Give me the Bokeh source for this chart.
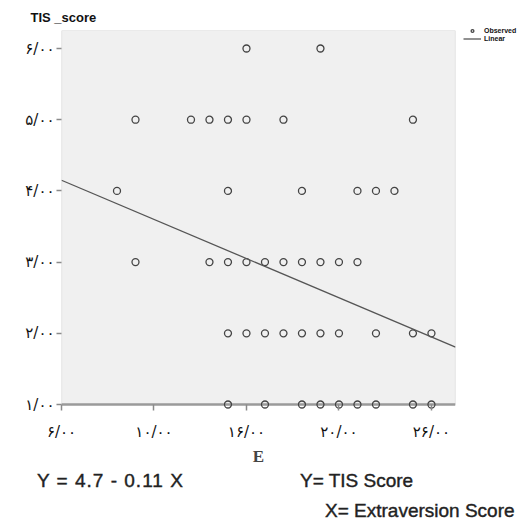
from bokeh.plotting import figure
from bokeh.models import (Range1d, FixedTicker, BoxAnnotation, Span,
                          Legend, LegendItem, Div)
from bokeh.layouts import column
from bokeh.embed import file_html
from bokeh.resources import INLINE

# ---- data ----
observed_e = [16, 20,
              10, 13, 14, 15, 16, 18, 25,
              9, 15, 19, 22, 23, 24,
              10, 14, 15, 16, 17, 18, 19, 20, 21, 22,
              15, 16, 17, 18, 19, 20, 21, 23, 25, 26,
              15, 17, 19, 20, 21, 22, 23, 25, 26]
observed_tis = [6, 6,
                5, 5, 5, 5, 5, 5, 5,
                4, 4, 4, 4, 4, 4,
                3, 3, 3, 3, 3, 3, 3, 3, 3, 3,
                2, 2, 2, 2, 2, 2, 2, 2, 2, 2,
                1, 1, 1, 1, 1, 1, 1, 1, 1]
fit_intercept = 4.81
fit_slope = -0.11

x_ticks = [6, 11, 16, 21, 26]
x_tick_labels = ["۶/۰۰", "۱۰/۰۰", "۱۶/۰۰", "۲۰/۰۰", "۲۶/۰۰"]
y_ticks = [1, 2, 3, 4, 5, 6]
y_tick_labels = ["۱/۰۰", "۲/۰۰", "۳/۰۰", "۴/۰۰", "۵/۰۰", "۶/۰۰"]

equation_text = "Y = 4.7 - 0.11 X"
y_def_text = "Y= TIS Score"
x_def_text = "X= Extraversion Score"

x_start, x_end = 6, 27.3
y_start, y_end = 0.93, 6.253

p = figure(frame_width=394, frame_height=379,
           min_border_left=61, min_border_right=72,
           min_border_top=30, min_border_bottom=56,
           x_range=Range1d(x_start, x_end), y_range=Range1d(y_start, y_end),
           output_backend="svg", toolbar_location=None,
           background_fill_color="white", border_fill_color="white")
p.outline_line_color = None
p.grid.visible = False

# title (y variable name) at top-left
p.title.text = "TIS _score"
p.title.align = "left"
p.title.offset = -31
p.title.standoff = 12
p.title.text_font = "Liberation Sans"
p.title.text_font_style = "bold"
p.title.text_font_size = "13px"
p.title.text_color = "#111111"

# plot area background and frame, starting at the y = 1 baseline
p.add_layout(BoxAnnotation(bottom=1, fill_color="#f0f0f0", fill_alpha=1,
                           line_color="#8a8a8a", line_width=1.2,
                           level="underlay"))
p.add_layout(Span(location=1, dimension="width", line_color="#9a9a9a",
                  line_width=2.5, level="underlay"))

# axes
p.xaxis.ticker = FixedTicker(ticks=x_ticks)
p.xaxis.major_label_overrides = dict(zip(x_ticks, x_tick_labels))
p.yaxis.ticker = FixedTicker(ticks=y_ticks)
p.yaxis.major_label_overrides = dict(zip(y_ticks, y_tick_labels))
for ax in (p.xaxis, p.yaxis):
    ax.axis_line_color = None
    ax.minor_tick_line_color = None
    ax.major_tick_line_color = "#8a8a8a"
    ax.major_tick_line_width = 1.5
    ax.major_label_text_font = "DejaVu Sans"
    ax.major_label_text_font_size = "15px"
    ax.major_label_text_color = "#111111"
p.xaxis.major_tick_in = 5
p.xaxis.major_tick_out = 1
p.xaxis.major_label_standoff = 12
p.yaxis.major_tick_in = 0
p.yaxis.major_tick_out = 5
p.yaxis.major_label_standoff = 2
p.xaxis.axis_label = "E"
p.xaxis.axis_label_text_font = "Liberation Serif"
p.xaxis.axis_label_text_font_style = "bold"
p.xaxis.axis_label_text_font_size = "17px"
p.xaxis.axis_label_standoff = 3

# observed points
pts = p.scatter(observed_e, observed_tis, size=7, marker="circle",
                fill_color=None, line_color="#444444", line_width=1.3)

# linear fit line
line_x = [x_start, x_end]
line_y = [fit_intercept + fit_slope * x for x in line_x]
ln = p.line(line_x, line_y, line_color="#555555", line_width=1.3)

# legend in the right panel
legend = Legend(items=[LegendItem(label="Observed", renderers=[pts]),
                       LegendItem(label="Linear", renderers=[ln])],
                location=(8, 367), orientation="vertical",
                glyph_width=18, glyph_height=7, label_height=7,
                label_text_font="Liberation Sans", label_text_font_size="7px",
                label_text_font_style="bold", label_text_color="#111111",
                label_standoff=3, spacing=1,
                padding=0, margin=0, border_line_color=None,
                background_fill_alpha=0)
p.add_layout(legend, "right")

# texts under the chart
txt_style = ("position:absolute;white-space:nowrap;font-family:'Liberation Sans';"
             "font-size:19px;line-height:19px;color:#222222;"
             "-webkit-text-stroke:0.4px #222222;")
html = (
    '<div style="position:relative;width:527px;height:56px;">'
    f'<span style="{txt_style}left:37px;top:3px;letter-spacing:1px;">{equation_text}</span>'
    f'<span style="{txt_style}left:300px;top:3px;">{y_def_text}</span>'
    f'<span style="{txt_style}left:325px;top:33px;">{x_def_text}</span>'
    '</div>'
)
notes = Div(text=html, width=527, height=56, margin=0)

layout = column(p, notes, spacing=0)
open("out.html", "w").write(file_html(layout, INLINE))
